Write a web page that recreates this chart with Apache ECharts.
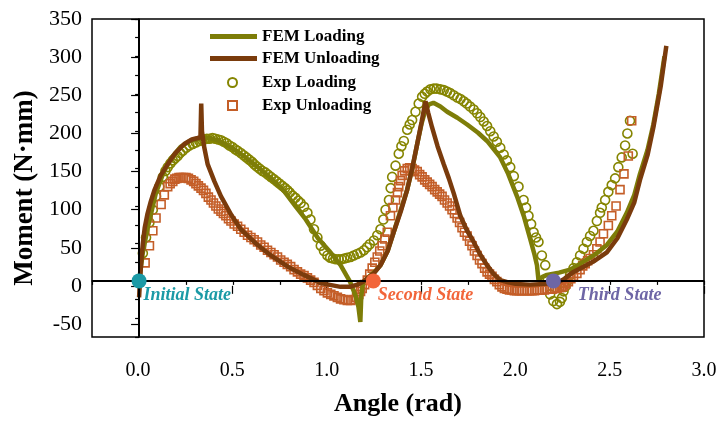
<!DOCTYPE html>
<html>
<head>
<meta charset="utf-8">
<script src="https://cdn.jsdelivr.net/npm/echarts@6/dist/echarts.min.js"></script>
<style>
  html, body { margin: 0; padding: 0; background: #fff; }
  #chart { width: 720px; height: 422px; }
</style>
</head>
<body>
<div id="chart"></div>
<script>
// FEM curves, [angle, moment]
var femLoading = [[0.000,0],[0.02,38],[0.045,70],[0.09,118],[0.13,145],[0.17,164],[0.22,179],[0.27,187],[0.32,190],[0.37,191],[0.42,188],[0.49,178],[0.56,166],[0.63,152],[0.70,137],[0.77,120],[0.83,100],[0.88,84],[0.95,57],[1.01,40],[1.07,21],[1.12,-1],[1.15,-20],[1.165,-35],[1.175,-55],[1.18,-20],[1.19,-2],[1.212,3.5],[1.25,12],[1.282,21],[1.32,40],[1.352,65],[1.39,95],[1.424,122],[1.455,155],[1.477,183],[1.50,210],[1.52,228],[1.54,236],[1.563,238],[1.60,233],[1.636,226],[1.69,218],[1.742,209],[1.80,198],[1.848,187],[1.918,165],[1.96,143],[2.007,113],[2.045,85],[2.077,56],[2.10,35],[2.113,21],[2.121,1],[2.14,5],[2.166,8],[2.23,11],[2.289,15],[2.35,24],[2.42,35],[2.484,48],[2.54,66],[2.59,91],[2.63,115],[2.66,143],[2.70,175],[2.731,209],[2.76,250],[2.79,300]];
var femUnloading = [[0.0,-22],[0.005,0],[0.012,28],[0.02,50],[0.03,71],[0.045,90],[0.062,106],[0.081,121],[0.115,141],[0.152,156],[0.19,170],[0.24,183],[0.28,189],[0.311,191],[0.326,192],[0.330,237],[0.334,200],[0.345,180],[0.364,156],[0.40,133],[0.435,113],[0.49,88],[0.54,69],[0.62,50],[0.70,34],[0.79,19],[0.875,8],[0.965,-3],[1.07,-8],[1.12,-8],[1.159,-5],[1.19,-1],[1.212,3.5],[1.25,11],[1.282,21],[1.32,40],[1.352,65],[1.39,93],[1.424,122],[1.45,150],[1.477,183],[1.50,212],[1.521,240],[1.535,225],[1.556,205],[1.585,180],[1.618,156],[1.645,137],[1.671,117],[1.706,87],[1.74,68],[1.777,52],[1.81,36],[1.848,21],[1.88,10],[1.918,1],[1.96,-2],[2.0,-4],[2.077,-5],[2.15,-4],[2.219,-3],[2.26,3],[2.307,12],[2.36,19],[2.42,27],[2.484,38],[2.54,57],[2.59,82],[2.63,105],[2.66,135],[2.70,168],[2.731,205],[2.77,260],[2.80,314]];

// experiment points
var expLoading = [[0.02,37],[0.037,58],[0.055,78],[0.073,95],[0.09,113],[0.108,126],[0.126,139],[0.14,147],[0.152,152],[0.166,157],[0.179,161],[0.192,164],[0.205,167],[0.218,171],[0.232,174],[0.25,178],[0.267,181],[0.285,183],[0.302,185],[0.32,187],[0.335,188],[0.346,189],[0.36,190],[0.375,190],[0.39,191],[0.405,190],[0.42,189],[0.435,188],[0.45,186],[0.465,184],[0.48,181],[0.495,179],[0.51,176],[0.523,174],[0.54,171],[0.555,168],[0.57,165],[0.585,162],[0.6,159],[0.611,156],[0.625,153],[0.64,150],[0.655,147],[0.67,145],[0.685,142],[0.70,139],[0.715,136],[0.73,133],[0.745,130],[0.76,127],[0.775,124],[0.788,121],[0.80,118],[0.815,114],[0.83,111],[0.845,107],[0.858,104],[0.876,99],[0.894,91],[0.91,82],[0.929,69],[0.947,58],[0.965,47],[0.982,40],[1.0,34],[1.015,31],[1.03,30],[1.045,29],[1.06,29],[1.075,29],[1.09,30],[1.105,31],[1.123,32],[1.14,34],[1.158,36],[1.176,38],[1.194,41],[1.21,45],[1.225,49],[1.247,54],[1.265,61],[1.282,69],[1.297,82],[1.309,95],[1.327,108],[1.336,124],[1.344,139],[1.362,154],[1.379,170],[1.393,180],[1.406,187],[1.424,202],[1.437,209],[1.45,215],[1.468,226],[1.485,237],[1.503,246],[1.517,250],[1.53,253],[1.547,256],[1.565,257],[1.58,257],[1.6,256],[1.618,255],[1.635,253],[1.652,251],[1.671,248],[1.69,245],[1.707,243],[1.724,240],[1.74,237],[1.758,233],[1.777,229],[1.795,224],[1.812,219],[1.83,213],[1.848,207],[1.865,200],[1.883,193],[1.9,186],[1.918,178],[1.936,169],[1.953,161],[1.971,152],[1.99,140],[2.015,126],[2.042,108],[2.055,98],[2.068,87],[2.082,76],[2.095,65],[2.108,58],[2.121,52],[2.139,34],[2.157,21],[2.17,3],[2.183,-18],[2.2,-27],[2.219,-31],[2.235,-28],[2.245,-23],[2.254,-14],[2.263,-8],[2.272,-1],[2.289,8],[2.307,17],[2.325,25],[2.342,34],[2.36,43],[2.378,52],[2.395,60],[2.413,67],[2.431,80],[2.448,91],[2.457,98],[2.475,108],[2.492,119],[2.51,128],[2.528,137],[2.545,152],[2.563,165],[2.581,181],[2.593,197],[2.607,214],[2.621,170]];
var expUnloading = [[0.032,24],[0.055,47],[0.073,67],[0.09,84],[0.117,102],[0.134,115],[0.152,126],[0.165,130],[0.179,133],[0.19,136],[0.2,137],[0.212,138],[0.223,138],[0.236,138],[0.249,138],[0.262,137],[0.276,135],[0.29,133],[0.302,130],[0.315,127],[0.329,124],[0.342,121],[0.355,117],[0.368,112],[0.382,108],[0.395,104],[0.408,100],[0.421,96],[0.435,93],[0.448,90],[0.461,87],[0.475,83],[0.488,80],[0.505,76],[0.523,73],[0.54,69],[0.558,65],[0.576,61],[0.594,58],[0.611,55],[0.629,52],[0.646,48],[0.664,45],[0.682,41],[0.70,38],[0.717,35],[0.735,32],[0.752,28],[0.77,25],[0.787,22],[0.805,19],[0.823,15],[0.841,12],[0.858,9],[0.876,7],[0.894,4],[0.911,1],[0.929,-2],[0.947,-6],[0.965,-10],[0.982,-13],[1.0,-16],[1.018,-18],[1.035,-20],[1.053,-22],[1.07,-24],[1.088,-25],[1.106,-26],[1.123,-26],[1.141,-25],[1.155,-22],[1.167,-18],[1.176,-14],[1.185,-10],[1.198,-5],[1.212,1],[1.225,9],[1.238,17],[1.252,25],[1.265,32],[1.278,40],[1.291,47],[1.305,56],[1.318,65],[1.335,87],[1.348,98],[1.362,108],[1.372,118],[1.379,126],[1.388,134],[1.397,141],[1.41,147],[1.424,150],[1.437,151],[1.45,150],[1.463,148],[1.477,146],[1.49,142],[1.503,139],[1.517,135],[1.53,132],[1.543,129],[1.556,126],[1.57,122],[1.583,119],[1.596,116],[1.609,113],[1.622,108],[1.636,104],[1.649,100],[1.662,95],[1.675,90],[1.689,84],[1.702,78],[1.715,71],[1.728,65],[1.742,60],[1.755,53],[1.768,47],[1.781,40],[1.795,34],[1.808,28],[1.821,23],[1.835,17],[1.848,12],[1.861,9],[1.874,6],[1.887,2],[1.9,-1],[1.913,-5],[1.927,-8],[1.94,-10],[1.954,-11],[1.967,-12],[1.98,-12],[1.993,-13],[2.006,-13],[2.02,-13],[2.033,-13],[2.046,-13],[2.06,-13],[2.073,-13],[2.086,-13],[2.1,-13],[2.113,-12],[2.126,-12],[2.14,-12],[2.153,-12],[2.166,-11],[2.18,-11],[2.193,-11],[2.206,-10],[2.22,-10],[2.233,-9],[2.245,-8],[2.254,-7],[2.267,-4],[2.28,-1],[2.293,3],[2.307,6],[2.325,10],[2.342,15],[2.356,20],[2.369,23],[2.382,27],[2.395,30],[2.413,35],[2.431,43],[2.448,52],[2.466,63],[2.492,74],[2.51,87],[2.533,100],[2.554,122],[2.575,143],[2.598,167],[2.616,214]];

var stateNames = ['Initial State', 'Second State', 'Third State'];
var statePoints = [[0, 0], [1.244, 0], [2.2, 0]];
var stateColors = ['#1b9aa6', '#f2653a', '#6e66a6'];

var serif = '"Liberation Serif", "Times New Roman", serif';
var legendText = { fontFamily: serif, fontWeight: 'bold', fontSize: 17, color: '#000' };

var stateData = statePoints.map(function (p, i) {
  return {
    value: p,
    name: stateNames[i],
    itemStyle: { color: stateColors[i], opacity: 1 },
    label: {
      show: true,
      formatter: stateNames[i],
      position: 'right',
      distance: 0,
      offset: [i == 2 ? 17 : -3, 14],
      color: stateColors[i],
      fontFamily: serif,
      fontStyle: 'italic',
      fontWeight: 'bold',
      fontSize: 18
    }
  };
});

var myChart = echarts.init(document.getElementById('chart'));

option = {
  animation: false,
  backgroundColor: '#fff',
  grid: [
    { left: 92, right: 16, top: 19, bottom: 79, show: true, borderColor: '#000', borderWidth: 1.5 },
    { left: 92, right: 16, top: 19, bottom: 98 },
    { left: 138, right: 16, top: 19, bottom: 79 }
  ],
  legend: [
    {
      data: ['FEM Loading', 'FEM Unloading'],
      icon: 'rect',
      orient: 'vertical', left: 205, top: 23, itemWidth: 47, itemHeight: 5, itemGap: 5,
      textStyle: legendText
    },
    {
      data: ['Exp Loading'],
      icon: 'circle',
      left: 222, top: 69, itemWidth: 9, itemHeight: 9,
      textStyle: Object.assign({ padding: [0, 0, 0, 20] }, legendText)
    },
    {
      data: ['Exp Unloading'],
      icon: 'rect',
      left: 222, top: 92, itemWidth: 9, itemHeight: 9,
      textStyle: Object.assign({ padding: [0, 0, 0, 20] }, legendText)
    }
  ],
  xAxis: [
    {
      gridIndex: 0, type: 'value', min: -0.25, max: 3, interval: 0.25,
      name: 'Angle (rad)', nameLocation: 'middle', nameGap: 54,
      nameTextStyle: { fontFamily: serif, fontWeight: 'bold', fontSize: 26, color: '#000' },
      axisLine: { lineStyle: { color: '#000', width: 1.5 } },
      axisTick: { length: 4, lineStyle: { color: '#000', width: 1.2 } },
      axisLabel: { show: false },
      splitLine: { show: false }
    },
    {
      gridIndex: 1, type: 'value', min: -0.25, max: 3, show: false
    },
    {
      gridIndex: 2, type: 'value', min: 0, max: 3, interval: 0.5,
      axisLine: { show: false },
      axisTick: { length: 8, lineStyle: { color: '#000', width: 1.2 } },
      axisLabel: { margin: 18, fontFamily: serif, fontSize: 20, color: '#000',
        formatter: function (v) { return v.toFixed(1); } },
      splitLine: { show: false }
    }
  ],
  yAxis: [
    {
      gridIndex: 0, type: 'value', min: -75, max: 350, interval: 25,
      name: 'Moment (N·mm)', nameLocation: 'middle', nameGap: 53,
      nameTextStyle: { fontFamily: serif, fontWeight: 'bold', fontSize: 27, color: '#000', padding: [0, 20, 0, 0] },
      axisLine: { lineStyle: { color: '#000', width: 1.5 } },
      axisTick: { length: 4, lineStyle: { color: '#000', width: 1.2 } },
      axisLabel: { show: false },
      splitLine: { show: false }
    },
    {
      gridIndex: 1, type: 'value', min: -50, max: 350, interval: 50,
      axisLine: { show: false },
      axisTick: { length: 8, lineStyle: { color: '#000', width: 1.2 } },
      axisLabel: { margin: 10, fontFamily: serif, fontSize: 22, color: '#000' },
      splitLine: { show: false }
    },
    {
      gridIndex: 2, type: 'value', min: -75, max: 350, show: false
    }
  ],
  series: [
    {
      name: 'FEM Loading', type: 'line', data: femLoading, symbol: 'none',
      lineStyle: { color: '#7d7d08', width: 4.5 }, itemStyle: { color: '#7d7d08' },
      markLine: {
        silent: true, symbol: 'none', label: { show: false },
        lineStyle: { color: '#000', width: 2, type: 'solid' },
        data: [{ xAxis: 0 }, { yAxis: 0 }]
      }
    },
    {
      name: 'FEM Unloading', type: 'line', data: femUnloading, symbol: 'none',
      lineStyle: { color: '#7a3b0c', width: 4.5 }, itemStyle: { color: '#7a3b0c' }
    },
    {
      name: 'Exp Loading', type: 'scatter', data: expLoading, symbol: 'circle', symbolSize: 9,
      itemStyle: { color: 'rgba(255,255,255,0)', borderColor: '#858500', borderWidth: 1.6, opacity: 1 }
    },
    {
      name: 'Exp Unloading', type: 'scatter', data: expUnloading, symbol: 'rect', symbolSize: 8,
      itemStyle: { color: 'rgba(255,255,255,0)', borderColor: '#c45e28', borderWidth: 1.6, opacity: 1 }
    },
    {
      name: 'States', type: 'scatter', data: stateData, symbolSize: 15, z: 10,
      itemStyle: { opacity: 1 }
    }
  ]
};

myChart.setOption(option);
</script>
</body>
</html>
